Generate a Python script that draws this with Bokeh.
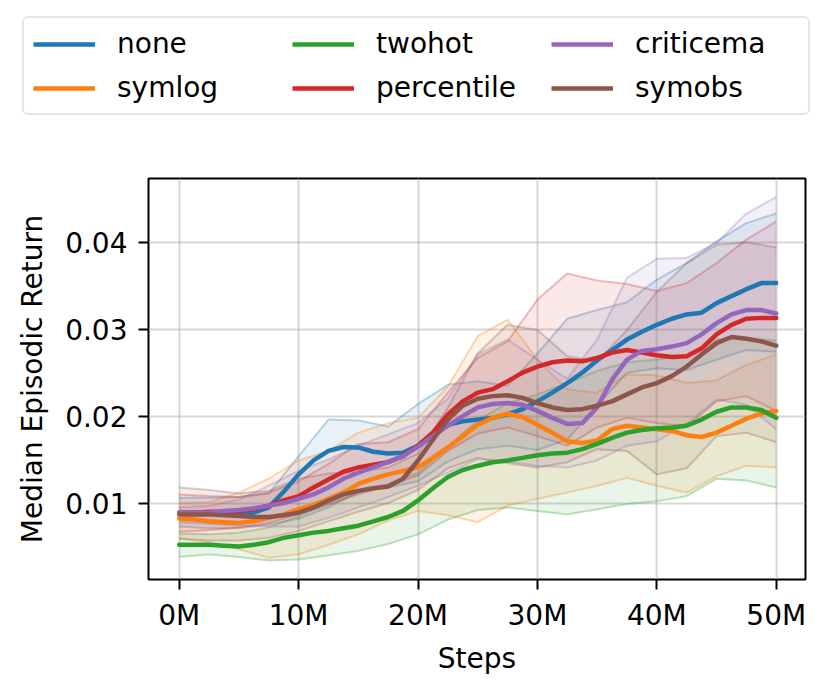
from bokeh.plotting import figure
from bokeh.layouts import column
from bokeh.models import Legend, LegendItem, FixedTicker, NumeralTickFormatter
from bokeh.embed import file_html
from bokeh.resources import INLINE

# x positions (millions of steps) of the band samples and of the median samples
band_steps_m = [0, 2.5, 5, 7.5, 10, 12.5, 15, 17.5, 20, 22.5, 25, 27.5, 30, 32.5, 35, 37.5, 40, 42.5, 45, 47.5, 50]
med_steps_m = [0, 1.25, 2.5, 3.75, 5, 6.25, 7.5, 8.75, 10, 11.25, 12.5, 13.75, 15, 16.25, 17.5, 18.75, 20,
               21.25, 22.5, 23.75, 25, 26.25, 27.5, 28.75, 30, 31.25, 32.5, 33.75, 35, 36.25, 37.5, 38.75, 40,
               41.25, 42.5, 43.75, 45, 46.25, 47.5, 48.75, 50]

none_med = [0.0089, 0.0089, 0.0089, 0.0089, 0.0089, 0.0089, 0.0095, 0.0113, 0.0133, 0.0149, 0.0160, 0.01645, 0.0164, 0.0159, 0.0157, 0.0158, 0.0166,
            0.0181, 0.0190, 0.0194, 0.0196, 0.0198, 0.0202, 0.0208, 0.0217, 0.0227, 0.0238, 0.0250, 0.0264, 0.0276, 0.0288, 0.0297, 0.0305,
            0.0312, 0.0317, 0.0319, 0.0330, 0.0338, 0.0346, 0.0353, 0.0353]
none_lo = [0.0073, 0.0071, 0.0071, 0.0075, 0.0082, 0.0095, 0.0113, 0.0118, 0.0125, 0.0148, 0.0162, 0.0166, 0.0161, 0.0173, 0.0212, 0.0250, 0.0255, 0.0253, 0.0265, 0.0276, 0.0274]
none_hi = [0.0106, 0.0106, 0.0107, 0.0111, 0.0154, 0.0196, 0.0195, 0.0188, 0.0214, 0.0236, 0.0240, 0.0235, 0.0272, 0.0312, 0.0322, 0.0331, 0.0357, 0.0376, 0.0401, 0.0422, 0.0433]

symlog_med = [0.0082, 0.0081, 0.0079, 0.0078, 0.0077, 0.0079, 0.0083, 0.0087, 0.0093, 0.0098, 0.0105, 0.0112, 0.0122, 0.0128, 0.0133, 0.0137, 0.0141,
              0.0152, 0.0164, 0.0177, 0.0190, 0.0198, 0.0203, 0.0199, 0.0190, 0.0181, 0.0171, 0.0169, 0.0172, 0.0185, 0.0189, 0.0187, 0.0185,
              0.0183, 0.0178, 0.0176, 0.0181, 0.0189, 0.0197, 0.0203, 0.0206]
symlog_lo = [0.0059, 0.0055, 0.0047, 0.0037, 0.0041, 0.0052, 0.0064, 0.0080, 0.0091, 0.0086, 0.0078, 0.0097, 0.0105, 0.0112, 0.0120, 0.0129, 0.0120, 0.0112, 0.0131, 0.0143, 0.0141]
symlog_hi = [0.0100, 0.0101, 0.0112, 0.0128, 0.0149, 0.0160, 0.0181, 0.0192, 0.0198, 0.0234, 0.0292, 0.0311, 0.0265, 0.0231, 0.0227, 0.0248, 0.0247, 0.0238, 0.0241, 0.0259, 0.0271]

twohot_med = [0.0052, 0.0052, 0.0052, 0.0051, 0.0050, 0.0052, 0.0055, 0.0060, 0.0063, 0.0066, 0.0068, 0.0071, 0.0074, 0.0079, 0.0084, 0.0091, 0.0103,
              0.0117, 0.0130, 0.0138, 0.0143, 0.0147, 0.0149, 0.0152, 0.0155, 0.0157, 0.0158, 0.0162, 0.0168, 0.0175, 0.0181, 0.0184, 0.0186,
              0.0187, 0.0189, 0.0196, 0.0205, 0.0210, 0.0210, 0.0207, 0.0198]
twohot_lo = [0.0038, 0.0041, 0.0038, 0.0034, 0.0035, 0.0040, 0.0045, 0.0053, 0.0064, 0.0081, 0.0092, 0.0095, 0.0091, 0.0087, 0.0093, 0.0099, 0.0102, 0.0108, 0.0128, 0.0126, 0.0118]
twohot_hi = [0.0065, 0.0064, 0.0066, 0.0072, 0.0085, 0.0100, 0.0112, 0.0122, 0.0135, 0.0165, 0.0195, 0.0215, 0.0225, 0.0238, 0.0252, 0.0262, 0.0265, 0.0270, 0.0288, 0.0290, 0.0287]

percentile_med = [0.0089, 0.0089, 0.0090, 0.0090, 0.0091, 0.0093, 0.0097, 0.0103, 0.0108, 0.0118, 0.0127, 0.0136, 0.0141, 0.0144, 0.0147, 0.0154, 0.0166,
                  0.0181, 0.0202, 0.0217, 0.0227, 0.0231, 0.0240, 0.0250, 0.0257, 0.0262, 0.0264, 0.0263, 0.0267, 0.0273, 0.0276, 0.0273, 0.0270,
                  0.0268, 0.0269, 0.0278, 0.0294, 0.0305, 0.0312, 0.0313, 0.0313]
percentile_lo = [0.0067, 0.0069, 0.0072, 0.0077, 0.0087, 0.0098, 0.0110, 0.0120, 0.0132, 0.0160, 0.0180, 0.0187, 0.0177, 0.0166, 0.0187, 0.0198, 0.0192, 0.0188, 0.0217, 0.0223, 0.0206]
percentile_hi = [0.0110, 0.0108, 0.0107, 0.0112, 0.0125, 0.0145, 0.0168, 0.0170, 0.0185, 0.0227, 0.0267, 0.0286, 0.0334, 0.0364, 0.0356, 0.0352, 0.0344, 0.0353, 0.0376, 0.0403, 0.0424]

criticema_med = [0.0089, 0.0089, 0.0089, 0.0091, 0.0092, 0.0094, 0.0097, 0.0100, 0.0105, 0.0110, 0.0118, 0.0128, 0.0135, 0.0141, 0.0147, 0.0154, 0.0165,
                 0.0177, 0.0189, 0.0200, 0.0210, 0.0214, 0.0215, 0.0213, 0.0206, 0.0198, 0.0191, 0.0192, 0.0210, 0.0242, 0.0265, 0.0275, 0.0277,
                 0.0280, 0.0284, 0.0294, 0.0307, 0.0317, 0.0322, 0.0322, 0.0318]
criticema_lo = [0.0078, 0.0076, 0.0074, 0.0073, 0.0073, 0.0083, 0.0095, 0.0107, 0.0120, 0.0135, 0.0150, 0.0148, 0.0143, 0.0141, 0.0149, 0.0166, 0.0171, 0.0191, 0.0219, 0.0213, 0.0185]
criticema_hi = [0.0095, 0.0097, 0.0104, 0.0120, 0.0137, 0.0150, 0.0166, 0.0179, 0.0192, 0.0220, 0.0271, 0.0288, 0.0265, 0.0243, 0.0288, 0.0359, 0.0381, 0.0382, 0.0399, 0.0433, 0.0452]

symobs_med = [0.0087, 0.0087, 0.0087, 0.0086, 0.0085, 0.0084, 0.0084, 0.0086, 0.0089, 0.0095, 0.0103, 0.0110, 0.0114, 0.0117, 0.0119, 0.0128, 0.0149,
              0.0173, 0.0196, 0.0212, 0.0220, 0.0223, 0.0224, 0.0221, 0.0215, 0.0210, 0.0207, 0.0208, 0.0212, 0.0217, 0.0225, 0.0233, 0.0238,
              0.0246, 0.0257, 0.0271, 0.0284, 0.0291, 0.0289, 0.0286, 0.0281]
symobs_lo = [0.0059, 0.0057, 0.0057, 0.0060, 0.0068, 0.0079, 0.0090, 0.0100, 0.0115, 0.0140, 0.0152, 0.0146, 0.0141, 0.0147, 0.0162, 0.0160, 0.0133, 0.0140, 0.0177, 0.0181, 0.0170]
symobs_hi = [0.0118, 0.0115, 0.0111, 0.0114, 0.0128, 0.0134, 0.0136, 0.0141, 0.0157, 0.0210, 0.0272, 0.0305, 0.0299, 0.0269, 0.0263, 0.0299, 0.0343, 0.0376, 0.0397, 0.0400, 0.0394]

names = ["none", "symlog", "twohot", "percentile", "criticema", "symobs"]
colors = ["#1f77b4", "#ff7f0e", "#2ca02c", "#d62728", "#9467bd", "#8c564b"]
x_ticks = [0, 10, 20, 30, 40, 50]
x_tick_labels = ["0M", "10M", "20M", "30M", "40M", "50M"]
y_ticks = [0.01, 0.02, 0.03, 0.04]

series = [
    (none_med, none_lo, none_hi),
    (symlog_med, symlog_lo, symlog_hi),
    (twohot_med, twohot_lo, twohot_hi),
    (percentile_med, percentile_lo, percentile_hi),
    (criticema_med, criticema_lo, criticema_hi),
    (symobs_med, symobs_lo, symobs_hi),
]

FONT = "DejaVu Sans"
LEG_H = 130

# ---- legend strip (its own frame spans the whole strip) ----
lg = figure(width=813, height=LEG_H, x_range=(0, 1), y_range=(1, 2),
            output_backend="svg", toolbar_location=None,
            x_axis_type=None, y_axis_type=None,
            min_border_left=0, min_border_right=0, min_border_top=0, min_border_bottom=0)
lg.frame_align = False
lg.grid.visible = False
lg.outline_line_color = None
# legend proxies: the median series, drawn outside this strip's visible range
leg_renderers = [lg.line(med_steps_m, s[0], line_color=c, line_width=4.5) for s, c in zip(series, colors)]
items = [LegendItem(label=n, renderers=[r]) for n, r in zip(names, leg_renderers)]
legend = Legend(items=items, location=(22, 15), ncols=3, orientation="vertical",
                label_text_font=FONT, label_text_font_size="28px", label_text_color="black",
                glyph_width=62, glyph_height=32, label_height=32, label_width=164,
                label_standoff=22, spacing=11, padding=9, margin=0,
                border_line_color="#cccccc", border_line_width=2, border_radius=6,
                background_fill_color="white", background_fill_alpha=0.8)
lg.add_layout(legend, "center")

# ---- main plot ----
p = figure(width=813, height=677 - LEG_H, x_range=(-2.57, 52.45), y_range=(0.00121, 0.04733),
           output_backend="svg", toolbar_location=None,
           min_border_left=148, min_border_right=8, min_border_top=178 - LEG_H, min_border_bottom=96)
p.frame_align = False

p.background_fill_color = "white"
p.outline_line_color = "black"
p.outline_line_width = 2
p.outline_line_alpha = 1.0

for ax in (p.xaxis, p.yaxis):
    ax.axis_line_color = None
    ax.major_tick_in = 0
    ax.major_tick_out = 10
    ax.major_tick_line_width = 2
    ax.minor_tick_line_color = None
    ax.major_label_text_font = FONT
    ax.major_label_text_font_size = "28px"
    ax.major_label_text_color = "black"
    ax.axis_label_text_font = FONT
    ax.axis_label_text_font_size = "28px"
    ax.axis_label_text_font_style = "normal"
    ax.axis_label_text_color = "black"
    ax.major_label_standoff = 11

p.xaxis.major_label_standoff = 9
p.xaxis.ticker = FixedTicker(ticks=x_ticks)
p.xaxis.major_label_overrides = {t: lab for t, lab in zip(x_ticks, x_tick_labels)}
p.yaxis.ticker = FixedTicker(ticks=y_ticks)
p.yaxis.formatter = NumeralTickFormatter(format="0.00")
p.xaxis.axis_label = "Steps"
p.yaxis.axis_label = "Median Episodic Return"
p.xaxis.axis_label_standoff = 7
p.yaxis.axis_label_standoff = 13

p.grid.grid_line_color = "#b0b0b0"
p.grid.grid_line_alpha = 0.5
p.grid.grid_line_width = 2

# bands first, medians on top
for (med, lo, hi), c in zip(series, colors):
    p.varea(x=band_steps_m, y1=lo, y2=hi, fill_color=c, fill_alpha=0.1)
    p.line(band_steps_m, lo, line_color=c, line_alpha=0.3, line_width=2, line_join="round")
    p.line(band_steps_m, hi, line_color=c, line_alpha=0.3, line_width=2, line_join="round")
for (med, lo, hi), c in zip(series, colors):
    p.line(med_steps_m, med, line_color=c, line_width=4.5, line_join="round", line_cap="round")

layout = column(lg, p, spacing=0)
open("out.html", "w").write(file_html(layout, INLINE))
